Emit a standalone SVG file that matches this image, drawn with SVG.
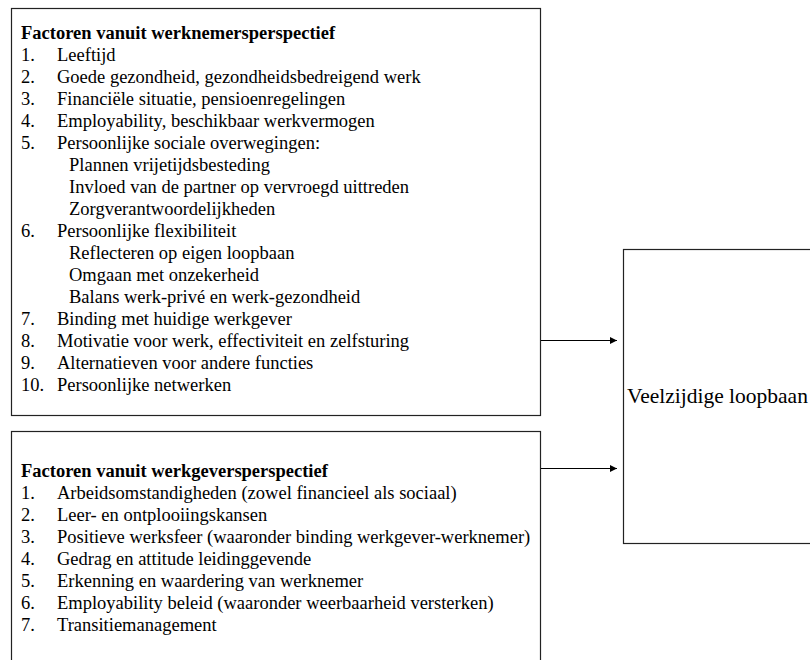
<svg xmlns="http://www.w3.org/2000/svg" width="810" height="660" viewBox="0 0 810 660">
<defs>
<style>
text{font-family:"Liberation Serif","Times New Roman",serif;font-size:18.5px;fill:#000}
.t{font-weight:bold}
.big{font-size:21.5px}
.box{fill:#fff;stroke:#222;stroke-width:1.2}
.con{stroke:#000;stroke-width:1.2;fill:none}
</style>
<marker id="ah" viewBox="0 0 10 10" refX="10" refY="5" markerWidth="8" markerHeight="7" markerUnits="userSpaceOnUse" orient="auto">
<path d="M0,0 L10,5 L0,10 Z" fill="#000"/>
</marker>
</defs>
<rect width="810" height="660" fill="#fff"/>
<g id="werknemer">
<rect class="box" x="11.5" y="8.5" width="529" height="407"/>
<text class="t" x="21" y="39">Factoren vanuit werknemersperspectief</text>
<text x="21" y="61">1.</text><text x="57" y="61">Leeftijd</text>
<text x="21" y="83">2.</text><text x="57" y="83">Goede gezondheid, gezondheidsbedreigend werk</text>
<text x="21" y="105">3.</text><text x="57" y="105">Financiële situatie, pensioenregelingen</text>
<text x="21" y="127">4.</text><text x="57" y="127">Employability, beschikbaar werkvermogen</text>
<text x="21" y="149">5.</text><text x="57" y="149">Persoonlijke sociale overwegingen:</text>
<text x="69" y="171">Plannen vrijetijdsbesteding</text>
<text x="69" y="193">Invloed van de partner op vervroegd uittreden</text>
<text x="69" y="215">Zorgverantwoordelijkheden</text>
<text x="21" y="237">6.</text><text x="57" y="237">Persoonlijke flexibiliteit</text>
<text x="69" y="259">Reflecteren op eigen loopbaan</text>
<text x="69" y="281">Omgaan met onzekerheid</text>
<text x="69" y="303">Balans werk-privé en werk-gezondheid</text>
<text x="21" y="325">7.</text><text x="57" y="325">Binding met huidige werkgever</text>
<text x="21" y="347">8.</text><text x="57" y="347">Motivatie voor werk, effectiviteit en zelfsturing</text>
<text x="21" y="369">9.</text><text x="57" y="369">Alternatieven voor andere functies</text>
<text x="21" y="391">10.</text><text x="57" y="391">Persoonlijke netwerken</text>
</g>
<g id="werkgever">
<rect class="box" x="11.5" y="431.5" width="529" height="240"/>
<text class="t" x="21" y="477">Factoren vanuit werkgeversperspectief</text>
<text x="21" y="499">1.</text><text x="57" y="499">Arbeidsomstandigheden (zowel financieel als sociaal)</text>
<text x="21" y="521">2.</text><text x="57" y="521">Leer- en ontplooiingskansen</text>
<text x="21" y="543">3.</text><text x="57" y="543">Positieve werksfeer (waaronder binding werkgever-werknemer)</text>
<text x="21" y="565">4.</text><text x="57" y="565">Gedrag en attitude leidinggevende</text>
<text x="21" y="587">5.</text><text x="57" y="587">Erkenning en waardering van werknemer</text>
<text x="21" y="609">6.</text><text x="57" y="609">Employability beleid (waaronder weerbaarheid versterken)</text>
<text x="21" y="631">7.</text><text x="57" y="631">Transitiemanagement</text>
</g>
<g id="loopbaan">
<rect class="box" x="623.5" y="249.5" width="200" height="294"/>
<text class="big" x="627" y="403">Veelzijdige loopbaan</text>
</g>
<g id="connectors">
<line class="con" x1="541" y1="340.5" x2="617" y2="340.5" marker-end="url(#ah)"/>
<line class="con" x1="541" y1="468.5" x2="617" y2="468.5" marker-end="url(#ah)"/>
</g>
</svg>
